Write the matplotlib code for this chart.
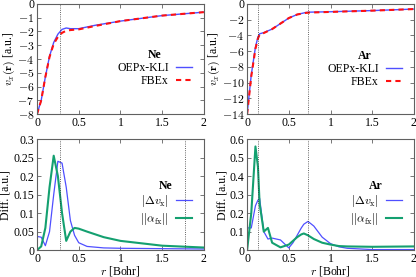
import matplotlib
matplotlib.use("Agg")
import matplotlib.pyplot as plt

plt.rcParams['font.family'] = ['Liberation Serif', 'DejaVu Serif']
plt.rcParams['mathtext.fontset'] = 'cm'
plt.rcParams['font.size'] = 8.5

# Ne, potentiel d'échange
ne_r = [0, 0.05, 0.1, 0.15, 0.2, 0.25, 0.3, 0.35, 0.4, 0.5, 0.7, 1.0, 1.5, 2.0]
ne_kli = [-8, -7.0, -5.3, -3.8, -2.8, -2.2, -1.85, -1.75, -1.8, -1.8, -1.55, -1.25, -0.85, -0.6]
ne_fbe = [-8, -7.0, -5.3, -3.85, -2.9, -2.4, -2.1, -1.95, -1.9, -1.85, -1.6, -1.25, -0.85, -0.6]

# Ar, potentiel d'échange
ar_r = [0, 0.05, 0.1, 0.13, 0.15, 0.2, 0.3, 0.4, 0.5, 0.6, 0.7, 0.75, 1.0, 1.5, 2.0]
ar_kli = [-14, -9.0, -5.5, -4.2, -3.8, -3.65, -3.2, -2.5, -1.8, -1.35, -1.1, -1.05, -1.0, -0.85, -0.66]
ar_fbe = [-14, -9.2, -5.7, -4.4, -3.9, -3.7, -3.2, -2.5, -1.8, -1.35, -1.15, -1.1, -1.02, -0.86, -0.66]

# Ne, différences
ne_dr = [0, 0.05, 0.1, 0.15, 0.2, 0.25, 0.3, 0.35, 0.4, 0.45, 0.5, 0.6, 0.8, 1.0, 1.5, 2.0]
ne_dv = [0.037, 0.035, 0.012, 0.05, 0.15, 0.24, 0.235, 0.17, 0.08, 0.04, 0.02, 0.01, 0.006, 0.005, 0.004, 0.003]
ne_da = [0, 0.01, 0.06, 0.17, 0.255, 0.2, 0.1, 0.025, 0.05, 0.06, 0.058, 0.05, 0.035, 0.025, 0.012, 0.007]

# Ar, différences
ar_dr = [0, 0.05, 0.1, 0.13, 0.15, 0.2, 0.25, 0.3, 0.4, 0.5, 0.55, 0.6, 0.65, 0.68, 0.73, 0.8, 0.9, 1.0, 1.1, 1.2, 1.5, 2.0]
ar_dv = [0.12, 0.12, 0.24, 0.27, 0.28, 0.1, 0.06, 0.065, 0.055, 0.012, 0.04, 0.08, 0.12, 0.14, 0.155, 0.13, 0.07, 0.035, 0.018, 0.01, 0.003, 0.003]
ar_da = [0, 0.2, 0.56, 0.45, 0.25, 0.1, 0.12, 0.04, 0.015, 0.03, 0.05, 0.07, 0.085, 0.09, 0.08, 0.06, 0.04, 0.03, 0.022, 0.02, 0.018, 0.02]

bleu = '#4f4fff'
rouge = '#ff1010'
vert = '#14a070'
gris = '#606060'

fig = plt.figure(figsize=(4.16, 2.77), dpi=100)
ax1 = fig.add_axes([0.089, 0.588, 0.401, 0.398])
ax2 = fig.add_axes([0.594, 0.588, 0.401, 0.398])
ax3 = fig.add_axes([0.089, 0.097, 0.401, 0.401])
ax4 = fig.add_axes([0.594, 0.097, 0.401, 0.401])


def style(ax):
    for s in ax.spines.values():
        s.set_color(gris)
        s.set_linewidth(0.8)
    ax.tick_params(direction='in', top=True, right=True, length=3, width=0.6,
                   color=gris, pad=2)
    ax.set_xlim(0, 2)
    ax.set_xticks([0, 0.5, 1, 1.5, 2])
    ax.set_xticklabels(['0', '0.5', '1', '1.5', '2'])


def legende(ax, titre, y):
    leg = ax.legend(loc='center right', bbox_to_anchor=(0.98, y), frameon=False,
                    markerfirst=False, title=titre, handlelength=1.4,
                    labelspacing=0.1, borderpad=0.2, handletextpad=0.6,
                    title_fontsize=8.5)
    leg.get_title().set_fontweight('bold')


# haut gauche
ax1.plot(ne_r, ne_kli, color=bleu, lw=1.0, label='OEPx-KLI')
ax1.plot(ne_r, ne_fbe, color=rouge, lw=1.5, ls=(0, (2.5, 2)), label='FBEx')
ax1.axvline(0.27, color='#303030', lw=0.6, ls=':')
ax1.set_ylim(-8, 0)
ax1.set_yticks(range(-8, 1))
ax1.set_yticklabels(['$-8$', '$-7$', '$-6$', '$-5$', '$-4$', '$-3$', '$-2$', '$-1$', '0'])
ax1.set_ylabel(r'$v_x(\mathbf{r})$ [a.u.]', labelpad=0)
style(ax1)
legende(ax1, 'Ne', 0.42)

# haut droite
ax2.plot(ar_r, ar_kli, color=bleu, lw=1.0, label='OEPx-KLI')
ax2.plot(ar_r, ar_fbe, color=rouge, lw=1.5, ls=(0, (2.5, 2)), label='FBEx')
ax2.axvline(0.13, color='#303030', lw=0.6, ls=':')
ax2.axvline(0.73, color='#303030', lw=0.6, ls=':')
ax2.set_ylim(-14, 0)
ax2.set_yticks(range(-14, 1, 2))
ax2.set_yticklabels(['$-14$', '$-12$', '$-10$', '$-8$', '$-6$', '$-4$', '$-2$', '0'])
ax2.set_ylabel(r'$v_x(\mathbf{r})$ [a.u.]', labelpad=0)
style(ax2)
legende(ax2, 'Ar', 0.41)

# bas gauche
ax3.plot(ne_dr, ne_dv, color=bleu, lw=0.9, label=r'$|\Delta v_{\rm x}|$')
ax3.plot(ne_dr, ne_da, color=vert, lw=1.5, label=r'$||\alpha_{\rm fx}||$')
ax3.axvline(0.27, color='#303030', lw=0.6, ls=':')
ax3.axvline(1.77, color='#303030', lw=0.6, ls=':')
ax3.set_ylim(0, 0.3)
ax3.set_yticks([0, 0.05, 0.1, 0.15, 0.2, 0.25, 0.3])
ax3.set_yticklabels(['0', '0.05', '0.1', '0.15', '0.2', '0.25', '0.3'])
ax3.set_ylabel('Diff. [a.u.]', labelpad=1)
ax3.set_xlabel(r'$r$ [Bohr]', labelpad=-1)
style(ax3)
legende(ax3, 'Ne', 0.42)

# bas droite
ax4.plot(ar_dr, ar_dv, color=bleu, lw=0.9, label=r'$|\Delta v_{\rm x}|$')
ax4.plot(ar_dr, ar_da, color=vert, lw=1.5, label=r'$||\alpha_{\rm fx}||$')
ax4.axvline(0.13, color='#303030', lw=0.6, ls=':')
ax4.axvline(0.73, color='#303030', lw=0.6, ls=':')
ax4.set_ylim(0, 0.6)
ax4.set_yticks([0, 0.1, 0.2, 0.3, 0.4, 0.5, 0.6])
ax4.set_yticklabels(['0', '0.1', '0.2', '0.3', '0.4', '0.5', '0.6'])
ax4.set_ylabel('Diff. [a.u.]', labelpad=1)
ax4.set_xlabel(r'$r$ [Bohr]', labelpad=-1)
style(ax4)
legende(ax4, 'Ar', 0.42)

fig.savefig('out.png', dpi=100)
